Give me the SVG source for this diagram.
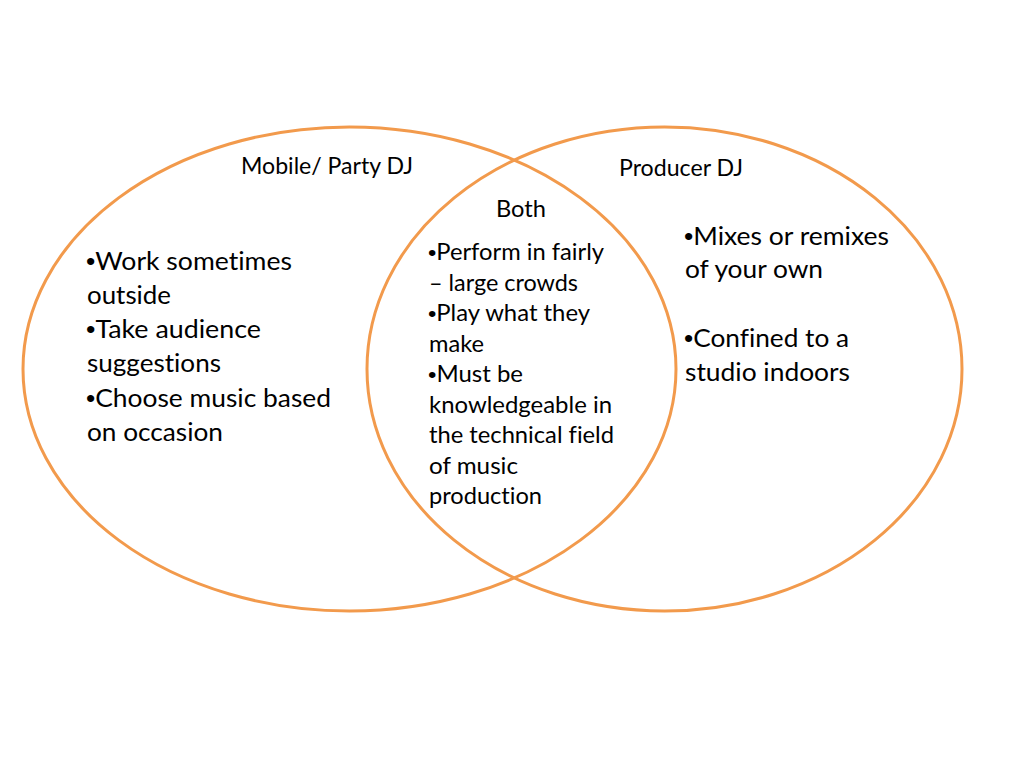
<svg xmlns="http://www.w3.org/2000/svg" width="1024" height="768" viewBox="0 0 1024 768">
<style>
.ring{fill:none;stroke:#F29A4C;stroke-width:3}
text{font-family:Lato,"Open Sans","Liberation Sans",sans-serif;fill:#000;font-variant-ligatures:none}
.big{font-size:25px}
.mid{font-size:22.5px}
.b{font-family:"Liberation Sans",Arial,sans-serif}
</style>
<rect x="0" y="0" width="1024" height="768" fill="#fff"/>
<g id="mobile-dj">
<ellipse class="ring" cx="349.5" cy="369" rx="326.5" ry="242"/>
<text class="mid" x="241" y="174" textLength="172" lengthAdjust="spacingAndGlyphs">Mobile/ Party DJ</text>
<text class="big" x="86" y="270" textLength="206" lengthAdjust="spacingAndGlyphs"><tspan class="b">•</tspan>Work sometimes</text>
<text class="big" x="87" y="304" textLength="84" lengthAdjust="spacingAndGlyphs">outside</text>
<text class="big" x="86" y="338" textLength="175" lengthAdjust="spacingAndGlyphs"><tspan class="b">•</tspan>Take audience</text>
<text class="big" x="87" y="372" textLength="134" lengthAdjust="spacingAndGlyphs">suggestions</text>
<text class="big" x="86" y="407" textLength="245" lengthAdjust="spacingAndGlyphs"><tspan class="b">•</tspan>Choose music based</text>
<text class="big" x="87" y="441" textLength="136" lengthAdjust="spacingAndGlyphs">on occasion</text>
</g>
<g id="producer-dj">
<ellipse class="ring" cx="664.5" cy="369" rx="297.5" ry="242"/>
<text class="mid" x="619" y="176" textLength="124" lengthAdjust="spacingAndGlyphs">Producer DJ</text>
<text class="big" x="684" y="245" textLength="205" lengthAdjust="spacingAndGlyphs"><tspan class="b">•</tspan>Mixes or remixes</text>
<text class="big" x="685" y="278" textLength="138" lengthAdjust="spacingAndGlyphs">of your own</text>
<text class="big" x="684" y="347" textLength="165" lengthAdjust="spacingAndGlyphs"><tspan class="b">•</tspan>Confined to a</text>
<text class="big" x="685" y="381" textLength="165" lengthAdjust="spacingAndGlyphs">studio indoors</text>
</g>
<g id="both">
<text class="mid" x="496" y="217" textLength="50" lengthAdjust="spacingAndGlyphs">Both</text>
<text class="mid" x="428" y="260" textLength="176" lengthAdjust="spacingAndGlyphs"><tspan class="b">•</tspan>Perform in fairly</text>
<text class="mid" x="429" y="290.6" textLength="149" lengthAdjust="spacingAndGlyphs">– large crowds</text>
<text class="mid" x="428" y="321" textLength="162" lengthAdjust="spacingAndGlyphs"><tspan class="b">•</tspan>Play what they</text>
<text class="mid" x="429" y="351.5" textLength="55" lengthAdjust="spacingAndGlyphs">make</text>
<text class="mid" x="428" y="382" textLength="95" lengthAdjust="spacingAndGlyphs"><tspan class="b">•</tspan>Must be</text>
<text class="mid" x="429" y="412.7" textLength="183" lengthAdjust="spacingAndGlyphs">knowledgeable in</text>
<text class="mid" x="429" y="443" textLength="185" lengthAdjust="spacingAndGlyphs">the technical field</text>
<text class="mid" x="429" y="473.5" textLength="89" lengthAdjust="spacingAndGlyphs">of music</text>
<text class="mid" x="429" y="504" textLength="113" lengthAdjust="spacingAndGlyphs">production</text>
</g>
<g id="connectors"/>
</svg>
